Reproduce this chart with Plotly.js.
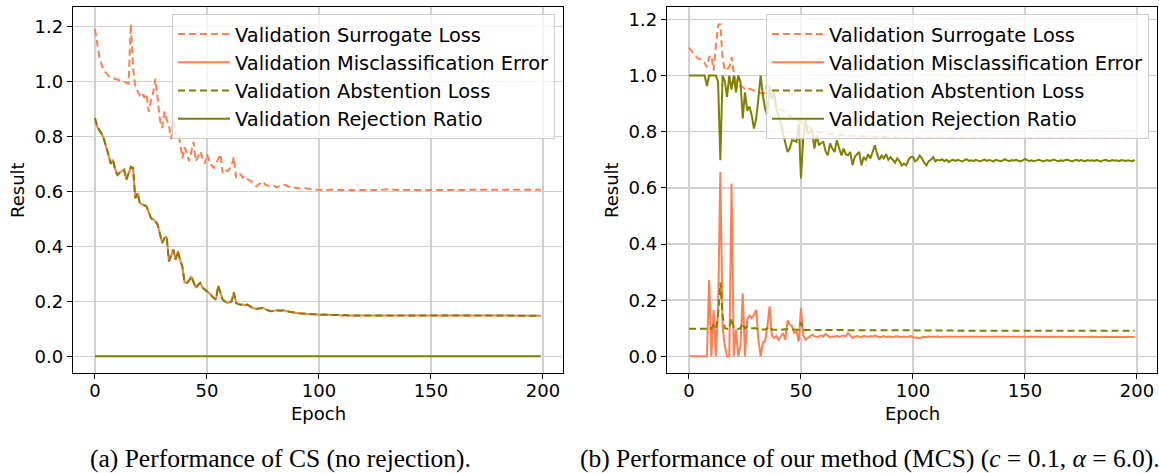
<!DOCTYPE html>
<html>
<head>
<meta charset="utf-8">
<script src="https://cdn.plot.ly/plotly-3.0.1.min.js"></script>
<style>html,body{margin:0;padding:0;background:#fff;}#chart{width:1159px;height:473px;}</style>
</head>
<body>
<div id="chart"></div>
<script>
// ---------------- data ----------------
const epochs = Array.from({length: 200}, (_, i) => i);

const seriesNames = [
  "Validation Surrogate Loss",
  "Validation Misclassification Error",
  "Validation Abstention Loss",
  "Validation Rejection Ratio"
];

const xTicks = [0, 50, 100, 150, 200];
const yTicks = [0, 0.2, 0.4, 0.6, 0.8, 1.0, 1.2];

const captionA = "(a) Performance of CS (no rejection).";
const captionB = "(b) Performance of our method (MCS) (<i>c</i> = 0.1, <i>α</i> = 6.0).";

// (a) CS
const cs_surrogate = [
  1.19, 1.13, 1.085, 1.06, 1.04, 1.03, 1.02, 1.015, 1.012, 1.01,
  1.008, 1.005, 1.0, 0.997, 0.995, 0.992, 1.21, 1.05, 0.98, 0.965,
  0.95, 0.96, 0.94, 0.955, 0.89, 0.93, 0.96, 1.01, 0.92, 0.86,
  0.83, 0.89, 0.86, 0.84, 0.79, 0.86, 0.80, 0.81, 0.78, 0.72,
  0.76, 0.74, 0.71, 0.75, 0.78, 0.71, 0.73, 0.745, 0.72, 0.70,
  0.735, 0.71, 0.695, 0.685, 0.70, 0.72, 0.735, 0.667, 0.68, 0.673,
  0.68, 0.695, 0.725, 0.649, 0.66, 0.662, 0.65, 0.655, 0.645, 0.64,
  0.635, 0.628, 0.618, 0.624, 0.632, 0.636, 0.625, 0.62, 0.618, 0.622,
  0.62, 0.615, 0.618, 0.62, 0.622, 0.624, 0.618, 0.614, 0.615, 0.613,
  0.612, 0.611, 0.613, 0.612, 0.61, 0.609, 0.61, 0.608, 0.607, 0.606,
  0.605, 0.606, 0.605, 0.604, 0.605, 0.606, 0.605, 0.604, 0.605, 0.605,
  0.604, 0.605, 0.606, 0.605, 0.604, 0.605, 0.604, 0.605, 0.606, 0.605,
  0.605, 0.604, 0.605, 0.605, 0.606, 0.605, 0.604, 0.605, 0.605, 0.606,
  0.607, 0.608, 0.607, 0.606, 0.605, 0.605, 0.604, 0.605, 0.605, 0.604,
  0.605, 0.605, 0.604, 0.605, 0.606, 0.605, 0.605, 0.604, 0.605, 0.605,
  0.604, 0.605, 0.605, 0.606, 0.605, 0.604, 0.605, 0.605, 0.604, 0.605,
  0.605, 0.606, 0.605, 0.605, 0.604, 0.605, 0.605, 0.604, 0.605, 0.606,
  0.605, 0.604, 0.605, 0.605, 0.604, 0.605, 0.605, 0.606, 0.605, 0.604,
  0.605, 0.605, 0.604, 0.605, 0.605, 0.606, 0.605, 0.604, 0.605, 0.605,
  0.604, 0.605, 0.605, 0.606, 0.605, 0.604, 0.605, 0.605, 0.605, 0.606
];

const cs_misclass = [
  0.867, 0.835, 0.822, 0.81, 0.79, 0.765, 0.733, 0.70, 0.715, 0.68,
  0.66, 0.668, 0.673, 0.679, 0.643, 0.67, 0.689, 0.685, 0.575, 0.594,
  0.56, 0.552, 0.55, 0.545, 0.52, 0.503, 0.498, 0.491, 0.479, 0.45,
  0.412, 0.43, 0.436, 0.345, 0.37, 0.388, 0.352, 0.382, 0.35, 0.327,
  0.269, 0.267, 0.275, 0.291, 0.27, 0.249, 0.26, 0.267, 0.25, 0.243,
  0.238, 0.23, 0.22, 0.212, 0.206, 0.257, 0.23, 0.206, 0.20, 0.194,
  0.197, 0.2, 0.233, 0.194, 0.19, 0.188, 0.189, 0.186, 0.188, 0.182,
  0.178, 0.175, 0.172, 0.174, 0.176, 0.176, 0.172, 0.168, 0.165, 0.164,
  0.166, 0.168, 0.167, 0.166, 0.168, 0.164, 0.163, 0.162, 0.16, 0.159,
  0.158, 0.157, 0.156, 0.155, 0.156, 0.155, 0.154, 0.153, 0.153, 0.152,
  0.152, 0.151, 0.152, 0.151, 0.15, 0.151, 0.15, 0.15, 0.151, 0.15,
  0.149, 0.15, 0.15, 0.149, 0.15, 0.149, 0.149, 0.15, 0.149, 0.149,
  0.149, 0.148, 0.149, 0.149, 0.148, 0.149, 0.149, 0.148, 0.148, 0.149,
  0.148, 0.149, 0.148, 0.148, 0.149, 0.148, 0.148, 0.149, 0.148, 0.148,
  0.148, 0.149, 0.148, 0.148, 0.147, 0.148, 0.148, 0.149, 0.148, 0.148,
  0.147, 0.148, 0.148, 0.148, 0.149, 0.148, 0.147, 0.148, 0.148, 0.148,
  0.148, 0.147, 0.148, 0.148, 0.149, 0.148, 0.148, 0.147, 0.148, 0.148,
  0.148, 0.148, 0.147, 0.148, 0.148, 0.149, 0.148, 0.148, 0.147, 0.148,
  0.148, 0.148, 0.148, 0.147, 0.148, 0.148, 0.148, 0.149, 0.148, 0.148,
  0.147, 0.148, 0.148, 0.148, 0.148, 0.147, 0.148, 0.148, 0.148, 0.148
];

// with no rejection the abstention loss equals the misclassification error
const cs_abstention = cs_misclass.slice();
const cs_rejection = epochs.map(() => 0);

// (b) MCS
const mcs_surrogate = [
  1.10, 1.09, 1.075, 1.07, 1.06, 1.06, 1.054, 1.045, 1.03, 1.066,
  1.072, 1.018, 1.107, 1.178, 1.185, 1.06, 1.018, 1.024, 1.03, 1.066,
  1.012, 0.977, 0.965, 0.962, 0.959, 0.952, 0.947, 0.953, 0.95, 0.946,
  0.944, 0.94, 0.938, 0.935, 0.94, 0.971, 0.955, 0.93, 0.91, 0.895,
  0.882, 0.878, 0.876, 0.872, 0.862, 0.855, 0.85, 0.846, 0.842, 0.84,
  0.835, 0.83, 0.822, 0.818, 0.812, 0.81, 0.805, 0.802, 0.80, 0.798,
  0.797, 0.795, 0.794, 0.793, 0.792, 0.791, 0.79, 0.789, 0.789, 0.788,
  0.787, 0.787, 0.786, 0.786, 0.785, 0.785, 0.784, 0.784, 0.784, 0.783,
  0.783, 0.783, 0.782, 0.782, 0.782, 0.781, 0.781, 0.781, 0.781, 0.780,
  0.780, 0.780, 0.780, 0.779, 0.780, 0.779, 0.779, 0.779, 0.780, 0.779,
  0.779, 0.779, 0.778, 0.779, 0.779, 0.778, 0.779, 0.779, 0.778, 0.779,
  0.778, 0.778, 0.779, 0.778, 0.778, 0.779, 0.778, 0.778, 0.778, 0.779,
  0.778, 0.778, 0.778, 0.779, 0.778, 0.778, 0.777, 0.778, 0.778, 0.778,
  0.779, 0.778, 0.778, 0.778, 0.777, 0.778, 0.778, 0.778, 0.779, 0.778,
  0.778, 0.778, 0.777, 0.778, 0.778, 0.778, 0.778, 0.779, 0.778, 0.778,
  0.778, 0.777, 0.778, 0.778, 0.778, 0.778, 0.778, 0.779, 0.778, 0.778,
  0.777, 0.778, 0.778, 0.778, 0.778, 0.777, 0.778, 0.778, 0.778, 0.778,
  0.778, 0.778, 0.777, 0.778, 0.778, 0.778, 0.778, 0.778, 0.777, 0.778,
  0.778, 0.778, 0.778, 0.777, 0.778, 0.778, 0.778, 0.778, 0.778, 0.777,
  0.778, 0.778, 0.778, 0.778, 0.777, 0.778, 0.778, 0.778, 0.778, 0.778
];

const mcs_misclass = [
  0.0, 0.0, 0.0, 0.0, 0.0, 0.0, 0.0, 0.0, 0.0, 0.272,
  0.0, 0.166, 0.0, 0.17, 0.657, 0.107, 0.036, 0.0, 0.0, 0.616,
  0.0, 0.095, 0.0, 0.04, 0.225, 0.0, 0.13, 0.145, 0.136, 0.148,
  0.166, 0.059, 0.0, 0.05, 0.053, 0.107, 0.178, 0.075, 0.065, 0.073,
  0.059, 0.071, 0.083, 0.059, 0.128, 0.113, 0.107, 0.083, 0.089, 0.053,
  0.172, 0.077, 0.059, 0.065, 0.071, 0.077, 0.072, 0.068, 0.071, 0.075,
  0.07, 0.08, 0.074, 0.068, 0.071, 0.07, 0.073, 0.069, 0.072, 0.074,
  0.071, 0.083, 0.075, 0.065, 0.07, 0.072, 0.07, 0.068, 0.073, 0.071,
  0.069, 0.072, 0.07, 0.074, 0.071, 0.068, 0.07, 0.072, 0.069, 0.071,
  0.07, 0.068, 0.071, 0.072, 0.069, 0.07, 0.071, 0.069, 0.07, 0.072,
  0.068, 0.066, 0.067, 0.065, 0.068, 0.07, 0.069, 0.071, 0.07, 0.069,
  0.07, 0.071, 0.069, 0.07, 0.07, 0.071, 0.069, 0.07, 0.071, 0.07,
  0.069, 0.07, 0.07, 0.071, 0.069, 0.07, 0.07, 0.069, 0.07, 0.071,
  0.07, 0.069, 0.07, 0.07, 0.071, 0.07, 0.069, 0.07, 0.07, 0.069,
  0.07, 0.071, 0.07, 0.069, 0.07, 0.07, 0.069, 0.07, 0.071, 0.07,
  0.069, 0.07, 0.07, 0.07, 0.069, 0.07, 0.071, 0.07, 0.069, 0.07,
  0.07, 0.069, 0.07, 0.07, 0.071, 0.07, 0.069, 0.07, 0.07, 0.069,
  0.07, 0.07, 0.069, 0.07, 0.071, 0.07, 0.069, 0.07, 0.07, 0.069,
  0.07, 0.07, 0.069, 0.07, 0.07, 0.069, 0.07, 0.07, 0.069, 0.07,
  0.069, 0.07, 0.07, 0.069, 0.07, 0.069, 0.07, 0.069, 0.069, 0.069
];

const mcs_abstention = [
  0.098, 0.098, 0.098, 0.098, 0.098, 0.098, 0.098, 0.098, 0.098, 0.105,
  0.098, 0.11, 0.098, 0.142, 0.263, 0.142, 0.10, 0.098, 0.098, 0.136,
  0.10, 0.10, 0.098, 0.10, 0.118, 0.10, 0.107, 0.10, 0.10, 0.10,
  0.10, 0.095, 0.095, 0.095, 0.096, 0.10, 0.107, 0.096, 0.095, 0.095,
  0.095, 0.095, 0.096, 0.095, 0.097, 0.096, 0.096, 0.095, 0.095, 0.095,
  0.12, 0.094, 0.094, 0.094, 0.094, 0.094, 0.094, 0.094, 0.094, 0.094,
  0.094, 0.094, 0.094, 0.093, 0.094, 0.093, 0.093, 0.094, 0.093, 0.093,
  0.093, 0.094, 0.093, 0.093, 0.093, 0.093, 0.093, 0.093, 0.094, 0.093,
  0.093, 0.093, 0.093, 0.093, 0.093, 0.092, 0.093, 0.093, 0.093, 0.092,
  0.092, 0.093, 0.092, 0.092, 0.092, 0.092, 0.092, 0.092, 0.092, 0.092,
  0.092, 0.092, 0.092, 0.092, 0.092, 0.092, 0.092, 0.092, 0.092, 0.092,
  0.092, 0.092, 0.092, 0.092, 0.092, 0.092, 0.092, 0.092, 0.092, 0.092,
  0.091, 0.092, 0.092, 0.091, 0.092, 0.091, 0.091, 0.092, 0.091, 0.091,
  0.091, 0.091, 0.091, 0.091, 0.091, 0.091, 0.091, 0.091, 0.091, 0.091,
  0.091, 0.091, 0.091, 0.091, 0.091, 0.091, 0.091, 0.091, 0.091, 0.091,
  0.091, 0.091, 0.091, 0.091, 0.091, 0.091, 0.091, 0.091, 0.091, 0.091,
  0.091, 0.091, 0.091, 0.091, 0.091, 0.091, 0.091, 0.091, 0.091, 0.091,
  0.091, 0.091, 0.091, 0.091, 0.091, 0.091, 0.091, 0.091, 0.091, 0.091,
  0.091, 0.091, 0.091, 0.091, 0.091, 0.091, 0.091, 0.091, 0.091, 0.091,
  0.091, 0.091, 0.091, 0.091, 0.091, 0.091, 0.091, 0.091, 0.091, 0.091
];

const mcs_rejection = [
  1.0, 1.0, 1.0, 1.0, 1.0, 1.0, 1.0, 1.0, 0.963, 1.0,
  1.0, 1.0, 1.0, 0.977, 0.699, 1.0, 0.98, 0.924, 1.0, 0.95,
  1.0, 0.94, 1.0, 0.977, 0.847, 0.94, 0.875, 0.89, 0.859, 0.811,
  0.847, 0.92, 1.0, 0.93, 0.88, 0.859, 0.965, 0.917, 0.947, 0.882,
  0.859, 0.83, 0.794, 0.76, 0.728, 0.74, 0.77, 0.768, 0.764, 0.829,
  0.634, 0.776, 0.841, 0.794, 0.80, 0.806, 0.74, 0.788, 0.752, 0.76,
  0.764, 0.73, 0.716, 0.758, 0.74, 0.728, 0.77, 0.74, 0.716, 0.74,
  0.72, 0.716, 0.728, 0.681, 0.71, 0.72, 0.728, 0.68, 0.71, 0.70,
  0.72, 0.705, 0.73, 0.752, 0.72, 0.70, 0.715, 0.705, 0.72, 0.70,
  0.71, 0.699, 0.69, 0.705, 0.695, 0.68, 0.687, 0.68, 0.70, 0.71,
  0.71, 0.695, 0.70, 0.715, 0.705, 0.69, 0.68, 0.695, 0.70, 0.71,
  0.695, 0.70, 0.698, 0.702, 0.695, 0.70, 0.692, 0.698, 0.70, 0.696,
  0.70, 0.697, 0.694, 0.699, 0.702, 0.696, 0.698, 0.695, 0.70, 0.697,
  0.694, 0.698, 0.701, 0.696, 0.699, 0.697, 0.694, 0.70, 0.698, 0.695,
  0.697, 0.702, 0.698, 0.695, 0.699, 0.697, 0.70, 0.696, 0.694, 0.698,
  0.703, 0.699, 0.696, 0.698, 0.695, 0.697, 0.70, 0.698, 0.694, 0.697,
  0.699, 0.696, 0.698, 0.701, 0.697, 0.695, 0.698, 0.696, 0.699, 0.70,
  0.697, 0.694, 0.698, 0.70, 0.696, 0.699, 0.697, 0.695, 0.699, 0.697,
  0.698, 0.696, 0.699, 0.697, 0.694, 0.698, 0.70, 0.697, 0.696, 0.699,
  0.697, 0.698, 0.695, 0.699, 0.697, 0.696, 0.698, 0.697, 0.695, 0.70
];

// ---------------- styles ----------------
const CORAL = '#FF7F50';
const OLIVE = '#808000';
const DASH = '7px,4px';
const LW = 2;

function makeTraces(vals, xa, ya, leg) {
  const styles = [
    {color: CORAL, dash: DASH},
    {color: CORAL, dash: 'solid'},
    {color: OLIVE, dash: DASH},
    {color: OLIVE, dash: 'solid'}
  ];
  return vals.map((v, i) => ({
    type: 'scatter', mode: 'lines', x: epochs, y: v,
    name: seriesNames[i], xaxis: xa, yaxis: ya, legend: leg,
    line: {color: styles[i].color, dash: styles[i].dash, width: LW},
    hoverinfo: 'skip'
  }));
}

const traces = [
  ...makeTraces([cs_surrogate, cs_misclass, cs_abstention, cs_rejection], 'x', 'y', 'legend'),
  ...makeTraces([mcs_surrogate, mcs_misclass, mcs_abstention, mcs_rejection], 'x2', 'y2', 'legend2')
];

const W = 1159, H = 473;
const px = v => v / W;
const py = v => 1 - v / H;

const FONT = 'DejaVu Sans, sans-serif';
const axisCommon = {
  showline: true, mirror: true, linecolor: 'black', linewidth: 1,
  ticks: 'outside', ticklen: 5, tickwidth: 1, tickcolor: 'black',
  showgrid: true, gridcolor: '#d0d0d0', gridwidth: 1.5, zeroline: false,
  tickfont: {family: FONT, size: 18, color: 'black'},
  fixedrange: true
};
const xCommon = Object.assign({}, axisCommon, {
  range: [-9.95, 208.95], tickvals: xTicks, ticktext: xTicks.map(String), ticklabelstandoff: -4
});
const yDomain = [py(373), py(7)];

const legendCommon = {
  bgcolor: 'rgba(255,255,255,0.8)', bordercolor: '#cccccc', borderwidth: 1,
  font: {family: FONT, size: 19.4, color: 'black'},
  yanchor: 'top', xanchor: 'right', itemwidth: 52, traceorder: 'normal'
};

const annFont = {family: FONT, size: 18, color: 'black'};
const capFont = {family: 'Liberation Serif, serif', size: 25.5, color: 'black'};

const layout = {
  width: W, height: H,
  margin: {l: 0, r: 0, t: 0, b: 0},
  paper_bgcolor: 'white', plot_bgcolor: 'white',
  showlegend: true,
  xaxis: Object.assign({}, xCommon, {domain: [px(72.7), px(563)], anchor: 'y'}),
  yaxis: Object.assign({}, axisCommon, {domain: yDomain, anchor: 'x', range: [-0.0605, 1.2705], tickvals: yTicks, tickformat: '.1f'}),
  xaxis2: Object.assign({}, xCommon, {domain: [px(666.7), px(1157)], anchor: 'y2'}),
  yaxis2: Object.assign({}, axisCommon, {domain: yDomain, anchor: 'x2', range: [-0.05925, 1.24425], tickvals: yTicks, tickformat: '.1f'}),
  legend: Object.assign({}, legendCommon, {x: px(555), y: py(14)}),
  legend2: Object.assign({}, legendCommon, {x: px(1149), y: py(14)}),
  annotations: [
    {text: 'Result', x: px(17), y: py(190), xref: 'paper', yref: 'paper', textangle: -90, showarrow: false, font: annFont, xanchor: 'center', yanchor: 'middle'},
    {text: 'Epoch', x: px(318), y: py(413), xref: 'paper', yref: 'paper', showarrow: false, font: annFont, xanchor: 'center', yanchor: 'middle'},
    {text: 'Result', x: px(611), y: py(190), xref: 'paper', yref: 'paper', textangle: -90, showarrow: false, font: annFont, xanchor: 'center', yanchor: 'middle'},
    {text: 'Epoch', x: px(912), y: py(413), xref: 'paper', yref: 'paper', showarrow: false, font: annFont, xanchor: 'center', yanchor: 'middle'},
    {text: captionA, x: px(280), y: py(458), xref: 'paper', yref: 'paper', showarrow: false, font: capFont, xanchor: 'center', yanchor: 'middle'},
    {text: captionB, x: px(578), y: py(458), xref: 'paper', yref: 'paper', showarrow: false, font: capFont, xanchor: 'left', yanchor: 'middle'}
  ]
};

Plotly.newPlot('chart', traces, layout, {displayModeBar: false, staticPlot: true});
</script>
</body>
</html>
